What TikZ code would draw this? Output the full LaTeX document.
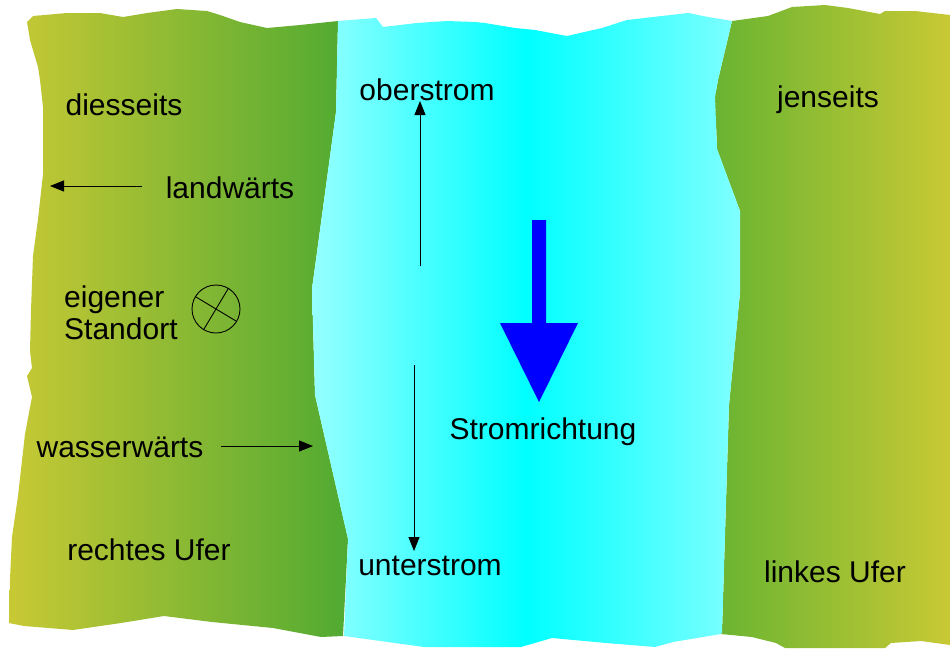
\documentclass[tikz,border=0pt]{standalone}
\usepackage{fontspec}
\setmainfont{Liberation Sans}
\usetikzlibrary{arrows.meta}
\definecolor{bankY}{RGB}{200,201,52}
\definecolor{bankG}{RGB}{80,170,50}
\definecolor{bankGR}{RGB}{105,180,50}
\definecolor{waterL}{RGB}{150,255,255}
\definecolor{waterM}{RGB}{0,255,255}
\definecolor{waterR}{RGB}{128,255,255}
\definecolor{flowblue}{RGB}{0,0,255}
\begin{document}
\begin{tikzpicture}[x=1pt,y=-1pt,
  lbl/.style={font=\fontsize{30}{32}\selectfont, inner sep=0pt, text=black},
  thinarrow/.style={draw=black, line width=0.9pt, -{Triangle[length=14pt,width=11pt]}},
  symline/.style={draw=black, line width=0.9pt}]
\useasboundingbox (0,0) rectangle (950,648);
% left bank
\shade[left color=bankY, right color=bankG]
  (27,22) -- (33,16) -- (67,13) -- (100,13) -- (123,17) -- (147,13) -- (177,9) -- (207,11)
  -- (220,15) -- (240,22) -- (267,28) -- (300,25) -- (338,21)
  -- (336,112) -- (312,289) -- (315,395) -- (348,539) -- (343,636)
  -- (321,637) -- (273,628) -- (212,622) -- (164,616) -- (121,623) -- (73,630) -- (24,626) -- (9,623)
  -- (10,579) -- (12,537) -- (18,496) -- (25,434) -- (32,397) -- (27,376) -- (32,368) -- (30,351)
  -- (31,310) -- (33,256) -- (38,219) -- (43,174) -- (43,107) -- (40,80) -- (38,67) -- (30,40) -- cycle;
% right bank
\shade[left color=bankGR, right color=bankY]
  (732,21) -- (768,16) -- (792,7) -- (825,5) -- (848,8) -- (880,14) -- (885,11) -- (915,11) -- (950,15)
  -- (950,645) -- (921,641) -- (891,643) -- (885,648) -- (785,648) -- (776,643) -- (752,637) -- (721,634)
  -- (722,632) -- (729,405) -- (740,293) -- (740,211) -- (717,149) -- (715,97) -- (718,80) -- cycle;
% water
\shade[left color=waterL, right color=waterR, middle color=waterM]
  (338,21) -- (376,18) -- (383,27) -- (417,23) -- (447,21) -- (475,22) -- (485,23) -- (515,28)
  -- (535,30) -- (567,36) -- (602,28) -- (627,20) -- (688,13) -- (708,17) -- (732,21)
  -- (718,80) -- (715,97) -- (717,149) -- (740,211) -- (740,293) -- (729,405)
  -- (722,632) -- (721,634) -- (673,642) -- (655,647) -- (606,643) -- (552,638) -- (521,647)
  -- (424,647) -- (344,636) -- (348,539) -- (315,395) -- (312,289) -- (336,112) -- cycle;
% flow arrow
\fill[flowblue] (532,220) -- (546,220) -- (546,323) -- (578,323) -- (539,402) -- (500,323) -- (532,323) -- cycle;
% labels
\node[lbl] (dies) at (124,105) {diesseits};
\node[lbl] (land) at (230,188) {landwärts};
\node[lbl, align=left, anchor=west] (stand) at (64,313) {eigener\\Standort};
\node[lbl] (wass) at (120,447) {wasserwärts};
\node[lbl] (recht) at (149,550) {rechtes Ufer};
\node[lbl] (ober) at (427,90) {oberstrom};
\node[lbl] (unter) at (430,566) {unterstrom};
\node[lbl] (strom) at (543,432) {Stromrichtung};
\node[lbl] (jen) at (828,100) {jenseits};
\node[lbl] (links) at (835,572) {linkes Ufer};
% arrows
\coordinate (landS) at (142,186);
\coordinate (landE) at (50,186);
\coordinate (wassS) at (221,446);
\coordinate (wassE) at (313,446);
\coordinate (oberS) at (420,266);
\coordinate (oberE) at (420,101);
\coordinate (unterS) at (414,365);
\coordinate (unterE) at (414,551);
\draw[thinarrow] (landS) -- (landE);
\draw[thinarrow] (wassS) -- (wassE);
\draw[thinarrow] (oberS) -- (oberE);
\draw[thinarrow] (unterS) -- (unterE);
% standpoint symbol
\node[draw=black, line width=0.9pt, circle, minimum size=48pt, inner sep=0pt] (pos) at (216,309) {};
\draw[symline] (pos.149) -- (pos.-31);
\draw[symline] (pos.59) -- (pos.239);
\end{tikzpicture}
\end{document}
